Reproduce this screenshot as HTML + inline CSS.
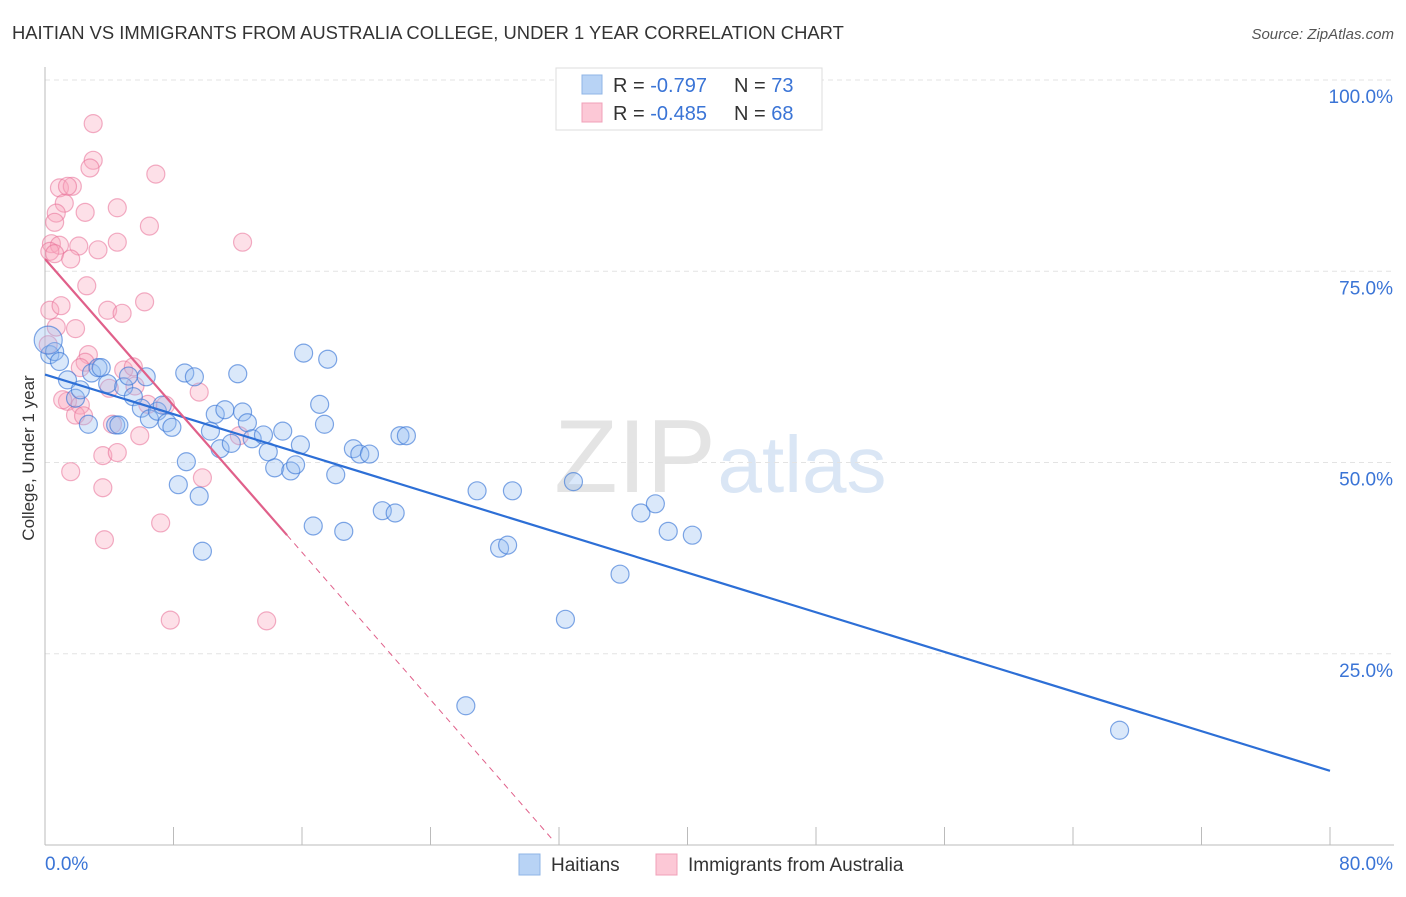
<!DOCTYPE html>
<html><head><meta charset="utf-8"><style>
body{margin:0;background:#fff;font-family:"Liberation Sans",sans-serif}
svg text{font-family:"Liberation Sans",sans-serif}
</style></head><body>
<svg width="1406" height="892" viewBox="0 0 1406 892" id="chart">
<text x="12" y="39" font-size="18.4" fill="#333">HAITIAN VS IMMIGRANTS FROM AUSTRALIA COLLEGE, UNDER 1 YEAR CORRELATION CHART</text>
<text x="1394" y="39" font-size="15" fill="#555" font-style="italic" text-anchor="end">Source: ZipAtlas.com</text>
<g><text x="635" y="492" font-size="104" fill="#e4e4e4" text-anchor="middle" font-family="Liberation Serif">ZIP</text><text x="802" y="492" font-size="80" fill="#dae6f5" text-anchor="middle">atlas</text></g>
<g id="grid"></g><g id="axes"></g><g id="marks"></g>
<text transform="translate(34,458) rotate(-90)" font-size="17" fill="#333" text-anchor="middle">College, Under 1 year</text>
<g>
<rect x="556" y="68" width="266" height="62" fill="#fff" stroke="#ddd"/>
<rect x="582" y="75" width="20" height="19" fill="#b8d3f5" stroke="#8fb5e6"/>
<rect x="582" y="103" width="20" height="19" fill="#fcc8d6" stroke="#f0a0b8"/>
<text x="613" y="92" font-size="20" fill="#333">R = <tspan fill="#3a74d6">-0.797</tspan><tspan x="734">N = </tspan><tspan fill="#3a74d6">73</tspan></text>
<text x="613" y="120" font-size="20" fill="#333">R = <tspan fill="#3a74d6">-0.485</tspan><tspan x="734">N = </tspan><tspan fill="#3a74d6">68</tspan></text>
</g>
<g>
<rect x="519" y="854" width="21" height="21" fill="#b8d3f5" stroke="#8fb5e6"/>
<text x="551" y="871" font-size="19" fill="#333">Haitians</text>
<rect x="656" y="854" width="21" height="21" fill="#fcc8d6" stroke="#f0a0b8"/>
<text x="688" y="871" font-size="19" fill="#333">Immigrants from Australia</text>
</g>
</svg>
<script>
const xTickLabels=["0.0%","80.0%"];
const yTicks=[25,50,75,100];
const yTickLabels=["25.0%","50.0%","75.0%","100.0%"];
const haitiansX=[0.3,0.6,0.9,1.4,1.9,2.2,2.7,2.9,3.3,3.5,3.9,4.4,4.6,4.9,5.2,5.5,6.0,6.3,6.5,7.0,7.3,7.6,7.9,8.3,8.8,8.7,9.3,9.6,9.8,10.3,10.6,10.9,11.2,11.6,12.0,12.3,12.6,12.9,13.6,13.9,14.3,14.8,15.3,15.6,15.9,16.1,16.7,17.1,17.4,17.6,18.1,18.6,19.2,19.6,20.2,21.0,21.8,22.1,22.5,26.2,26.9,28.3,28.8,29.1,32.4,32.9,35.8,37.1,38.0,38.8,40.3,66.9,0.2];
const haitiansY=[64.1,64.5,63.2,60.8,58.4,59.5,55.0,61.7,62.4,62.4,60.3,54.9,54.9,59.9,61.3,58.6,57.1,61.2,55.7,56.7,57.5,55.2,54.6,47.1,50.1,61.7,61.2,45.6,38.4,54.1,56.3,51.8,56.9,52.5,61.6,56.6,55.2,53.1,53.6,51.4,49.3,54.1,48.9,49.7,52.3,64.3,41.7,57.6,55.0,63.5,48.4,41.0,51.8,51.1,51.1,43.7,43.4,53.5,53.5,18.2,46.3,38.8,39.2,46.3,29.5,47.5,35.4,43.4,44.6,41.0,40.5,15.0,66.0];
const ausX=[3.0,3.0,2.8,6.9,0.9,1.7,1.4,1.2,0.7,2.5,4.5,6.5,0.6,0.4,0.9,2.1,0.3,0.6,1.6,3.3,4.5,12.3,2.6,0.3,1.0,3.9,4.8,6.2,1.9,0.7,2.7,2.5,2.2,4.9,5.5,0.2,5.6,6.4,1.4,2.2,1.9,2.4,4.2,5.9,3.6,4.5,1.6,3.6,7.2,3.7,7.8,13.8,9.8,7.5,9.6,12.1,4.0,1.1];
const ausY=[94.3,89.5,88.5,87.7,85.9,86.1,86.1,83.9,82.6,82.7,83.3,80.9,81.4,78.6,78.4,78.3,77.6,77.3,76.6,77.8,78.8,78.8,73.1,69.9,70.5,69.9,69.5,71.0,67.5,67.7,64.1,63.1,62.4,62.1,62.5,65.4,60.0,57.6,58.0,57.5,56.2,56.1,55.0,53.5,50.9,51.3,48.8,46.7,42.1,39.9,29.4,29.3,48.0,57.5,59.2,53.5,59.7,58.2];
const NS="http://www.w3.org/2000/svg";
const L=45,R=1330,T=80,B=845;
const xs=v=>L+v/80*(R-L);
const ys=v=>B-v/100*(B-T);
function mk(tag,attrs,parent){const e=document.createElementNS(NS,tag);for(const k in attrs)e.setAttribute(k,attrs[k]);parent.appendChild(e);return e;}
const grid=document.getElementById('grid'),axes=document.getElementById('axes'),marks=document.getElementById('marks');
yTicks.forEach((t,i)=>{
 const g=mk('line',{x1:L,x2:1394,y1:ys(t),y2:ys(t),stroke:'#e3e3e3','stroke-dasharray':'5,4'},grid);
 
 
 const tx=mk('text',{x:1393,y:ys(t)+23,'font-size':19,fill:'#3a74d6','text-anchor':'end'},axes);
 tx.textContent=yTickLabels[i];
 
 
});
const ax=mk('line',{x1:L,x2:L,y1:67,y2:B,stroke:'#bbb'},axes);


const bx=mk('line',{x1:L,x2:1394,y1:B,y2:B,stroke:'#bbb'},axes);


for(let i=1;i<=10;i++){const v=i*8;const t=mk('line',{x1:xs(v),x2:xs(v),y1:B,y2:B-18,stroke:'#bbb'},axes);
 
 }
[[0,'start',45],[80,'end',1393]].forEach((p,i)=>{const t=mk('text',{x:p[2],y:870,'font-size':19,fill:'#3a74d6','text-anchor':p[1]},axes);t.textContent=xTickLabels[i];
 
 });
function dots(X,Y,fill,stroke,name){X.forEach((x,i)=>{const c=mk('circle',{cx:xs(x),cy:ys(Y[i]),r:i==72&&name=='haitian-point'?14:9,fill:fill,stroke:stroke,'stroke-width':1.2},marks);
 
 });}
dots(ausX,ausY,'rgba(248,165,190,0.35)','rgba(232,110,150,0.55)','australia-point');
dots(haitiansX,haitiansY,'rgba(150,190,240,0.35)','rgba(60,120,215,0.65)','haitian-point');
const bl=mk('line',{x1:xs(0),y1:ys(61.5),x2:xs(80),y2:ys(9.7),stroke:'#2d6fd6','stroke-width':2.2},marks);


const pl=mk('line',{x1:xs(0),y1:ys(76.6),x2:xs(15.07),y2:ys(40.5),stroke:'#e0608a','stroke-width':2.2},marks);


const pd=mk('line',{x1:xs(15.07),y1:ys(40.5),x2:xs(31.6),y2:ys(0.7),stroke:'#e0608a','stroke-width':1,'stroke-dasharray':'6,5'},marks);


</script>
</body></html>
